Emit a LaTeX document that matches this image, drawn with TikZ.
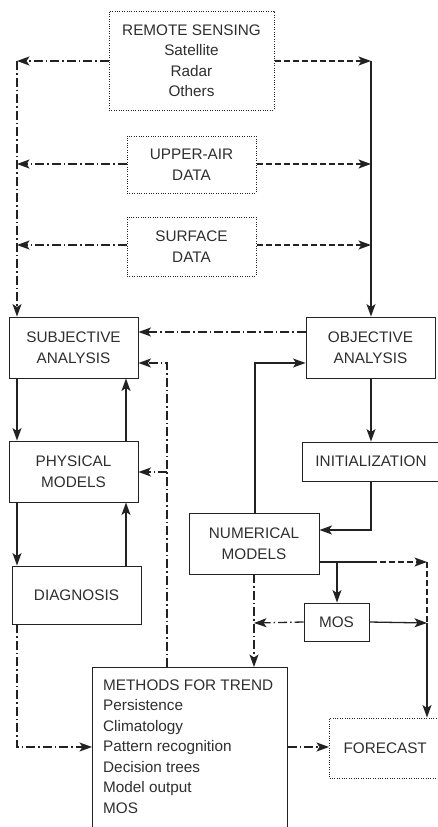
\documentclass[tikz,border=0pt]{standalone}
\usepackage{fontspec}
\setmainfont{Liberation Sans}
\usetikzlibrary{arrows.meta,calc}
\definecolor{ink}{HTML}{222222}
\definecolor{txt}{HTML}{2E2E2E}
\begin{document}
\begin{tikzpicture}[x=1pt,y=-1pt,
  every node/.style={font=\fontsize{15.3}{20.5}\selectfont, text=txt, inner sep=0pt},
  box/.style={draw=ink, line width=0.9pt, rectangle, align=center},
  dotbox/.style={draw=ink, line width=1pt, dash pattern=on 1pt off 1.4pt, rectangle, align=center},
  conn/.style={draw=ink, line width=1.3pt},
  arr/.style={conn, -{Stealth[length=12.5pt,width=9pt,inset=3pt]}},
  dd/.style={dash pattern=on 9pt off 3pt on 1.5pt off 3pt},
  ds/.style={dash pattern=on 6pt off 3pt}]
\useasboundingbox (0,0) rectangle (438,827);

% nodes
\node[dotbox, minimum width=165pt, minimum height=99pt] (rs) at (191.5,60.5) {REMOTE SENSING\\Satellite\\Radar\\Others};
\node[dotbox, minimum width=129pt, minimum height=57pt] (ua) at (191.5,164.5) {UPPER-AIR\\DATA};
\node[dotbox, minimum width=129pt, minimum height=59pt] (sd) at (191.5,246.5) {SURFACE\\DATA};
\node[box, minimum width=129pt, minimum height=61pt] (sa) at (73.5,347.5) {SUBJECTIVE\\ANALYSIS};
\node[box, minimum width=129pt, minimum height=61pt] (oa) at (370.5,347.5) {OBJECTIVE\\ANALYSIS};
\node[box, minimum width=129pt, minimum height=61pt] (pm) at (73.5,471.5) {PHYSICAL\\MODELS};
\node[box, anchor=west, minimum height=39pt, text width=130pt, inner xsep=13pt, align=left] (init) at (302,461.5) {INITIALIZATION};
\node[box, minimum width=130pt, minimum height=61pt] (num) at (254,543.5) {NUMERICAL\\MODELS};
\node[box, minimum width=129pt, minimum height=58pt] (dg) at (76.5,595) {DIAGNOSIS};
\node[box, minimum width=65pt, minimum height=38pt] (mos) at (336.5,622) {MOS};
\node[box, anchor=north west, minimum width=195pt, minimum height=180pt] (meth) at (92,667) {};
\node[anchor=north west, align=left] (methtxt) at (103,679.5) {METHODS FOR TREND\\Persistence\\Climatology\\Pattern recognition\\Decision trees\\Model output\\MOS};
\node[dotbox, anchor=west, minimum height=60pt, text width=100pt, inner xsep=14pt, align=left] (fc) at (329,748) {FORECAST};

% coordinates
\coordinate (L1) at (17,61);
\coordinate (L2) at (17,164);
\coordinate (L3) at (17,245);
\coordinate (R1) at (371,61);
\coordinate (R2) at (371,164);
\coordinate (R3) at (371,245);

% data inputs
\draw[arr,dd] (rs.west |- L1) -- (L1);
\draw[arr,dd] (ua.west |- L2) -- (L2);
\draw[arr,dd] (sd.west |- L3) -- (L3);
\draw[arr,ds] (rs.east |- R1) -- (R1);
\draw[arr,ds] (ua.east |- R2) -- (R2);
\draw[arr,ds] (sd.east |- R3) -- (R3);
\draw[arr,dd] (L1) -- (L1 |- sa.north);
\draw[arr] (R1) -- (R1 |- oa.north);

% analyses
\draw[arr,dd] (oa.west |- 0,332) -- (sa.east |- 0,332);
\draw[arr] (num.north -| 255,0) |- (oa.west |- 0,363);
\draw[arr,dd] (meth.north -| 167,0) |- (sa.east |- 0,363);
\draw[arr,dd] (167,472) -- (pm.east |- 0,472);

% left column
\draw[arr] (sa.south -| 17,0) -- (pm.north -| 17,0);
\draw[arr] (pm.north -| 126,0) -- (sa.south -| 126,0);
\draw[arr] (pm.south -| 17,0) -- (dg.north -| 17,0);
\draw[arr] (dg.north -| 126,0) -- (pm.south -| 126,0);
\draw[arr,dd] (dg.south -| 17,0) |- (meth.west |- 0,747);

% right column
\draw[arr] (oa.south -| 371,0) -- (init.north -| 371,0);
\draw[arr] (init.south -| 371,0) |- (num.east |- 0,530);
\draw[conn] (num.east |- 0,562) -- (371,562);
\draw[arr,ds] (371,562) -- (427,562);
\draw[arr] (337,562) -- (mos.north -| 337,0);
\draw[conn,ds] (427,562) -- (427,623);
\draw[arr] (427,623) -- (fc.north -| 427,0);
\draw[arr] (mos.east) -- (427,623);
\draw[arr,dd] (mos.west) -- (254,623);
\draw[arr,dd] (num.south -| 254,0) -- (meth.north -| 254,0);
\draw[arr,dd] (meth.east |- 0,747) -- (fc.west |- 0,747);
\end{tikzpicture}
\end{document}
